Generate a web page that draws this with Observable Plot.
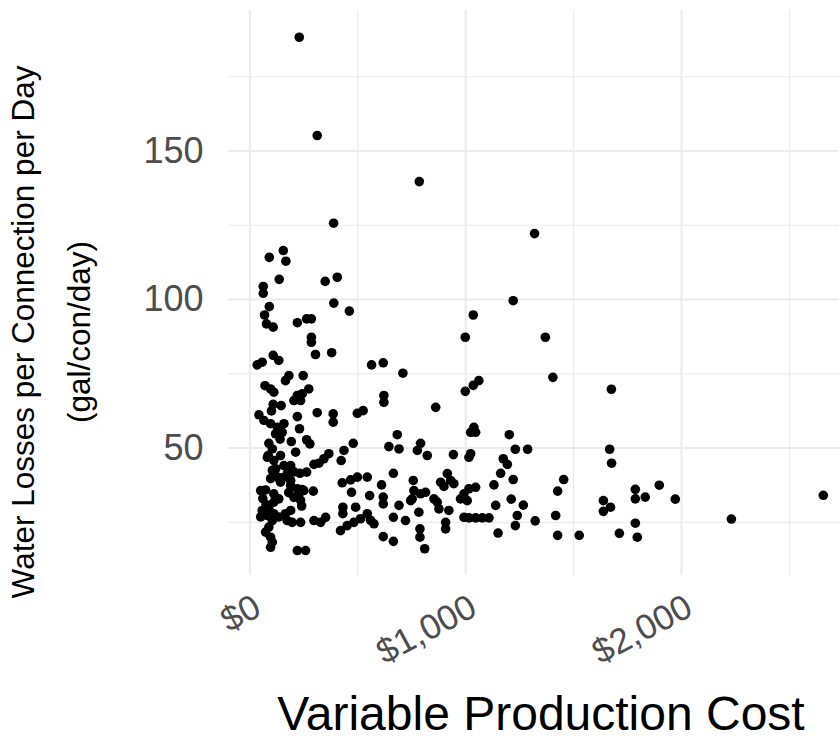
<!DOCTYPE html>
<html>
<head>
<meta charset="utf-8">
<script src="https://cdn.jsdelivr.net/npm/d3@7"></script>
<script src="https://cdn.jsdelivr.net/npm/@observablehq/plot@0.6"></script>
<style>
  html, body { margin: 0; padding: 0; background: #ffffff; }
  #chart svg { display: block; }
</style>
</head>
<body>
<div id="chart"></div>
<script>
// Variable production cost ($) per utility
const cost = [
  229, 312, 785, 388, 155, 90, 167, 136, 349, 405, 62, 62, 389, 1220, 1319,
  1369, 1404, 1675, 1202, 1230, 1287, 1174, 1193, 1162, 1220, 1454, 1426, 1667, 1676, 1897,
  1786, 1786, 1832, 1971, 1638, 1671, 1638, 1211, 1267, 1239, 1230, 1322, 1417, 1426, 1526,
  1712, 1786, 1795, 2231, 2657, 1150,
  461, 1035, 998, 90, 68, 77, 108, 220, 263, 285, 285, 285, 304, 379, 34, 57, 108, 134,
  564, 618, 709, 998, 1035, 1061, 181, 165, 247, 70, 96, 111, 273, 243, 220, 204, 235,
  108, 145, 621, 621, 861, 312, 386, 386, 498, 525, 42, 65, 96, 127, 158, 220, 230, 119,
  150, 683, 1038, 1023, 1046, 192, 263, 278, 88, 104, 479, 644, 691, 791, 776, 822, 943,
  1023, 1015, 212, 436, 423, 366, 343, 320, 297, 81, 111, 142, 158, 189, 232, 263, 665,
  104, 127, 96, 142, 173, 189, 915, 930, 945, 757, 884, 899, 498, 544, 467, 428, 610, 1131,
  50, 73, 189, 220, 243, 226, 204, 235, 250, 294, 111, 134, 111, 471, 555, 760, 752, 791,
  814, 853, 868, 992, 1015, 1046, 1007, 976, 618, 618, 691, 490, 431, 431, 745, 1139, 783,
  876, 922, 57, 88, 50, 81, 111, 134, 165, 189, 173, 196, 235, 104, 297, 328, 351, 88, 73,
  96, 104, 96, 220, 258, 420, 451, 482, 513, 544, 559, 575, 618, 665, 665, 721, 788, 788,
  810, 907, 907, 992, 1015, 1046, 1077, 1108,
  60, 75, 120, 150, 180, 205, 240, 140, 100, 85
];
// Water losses per connection per day (gal/con/day)
const losses = [
  188.3, 155.2, 139.7, 125.7, 116.5, 114.2, 112.9, 106.8, 106.1, 107.5, 104.4, 102.1, 98.8, 99.6, 122.2,
  87.3, 73.8, 69.8, 54.5, 49.6, 49.6, 46.4, 44.5, 41.5, 39.4, 39.4, 35.5, 49.6, 44.9, 37.5,
  36.1, 32.9, 33.5, 32.8, 32.3, 30.1, 28.7, 32.8, 30.8, 27.3, 23.9, 25.5, 27.3, 20.6, 20.6,
  21.3, 24.7, 20.0, 26.1, 34.1, 21.4,
  96.1, 94.8, 87.3, 97.6, 94.8, 91.8, 90.7, 92.2, 93.5, 93.5, 87.3, 85.6, 81.5, 82.1, 78.0, 78.9, 81.2, 79.5,
  78.0, 78.7, 75.2, 69.1, 71.1, 72.7, 74.4, 72.7, 74.4, 71.0, 69.9, 68.8, 69.9, 68.3, 67.7, 66.0, 66.0,
  64.7, 64.3, 67.7, 65.4, 63.7, 61.9, 61.5, 58.7, 61.7, 62.6, 61.2, 59.3, 58.2, 57.0, 58.2, 60.6, 56.5, 54.8,
  55.3, 54.5, 57.0, 55.3, 55.3, 52.2, 52.8, 51.4, 51.6, 49.7, 51.6, 50.5, 49.7, 51.6, 49.2, 47.5, 47.8,
  48.1, 46.9, 48.6, 49.2, 45.8, 48.1, 46.4, 44.9, 44.5, 46.9, 45.8, 47.5, 44.1, 44.1, 41.5, 41.9, 41.5,
  42.5, 40.2, 39.7, 38.5, 41.4, 39.1, 41.4, 39.1, 38.0, 39.1, 38.5, 37.1, 40.2, 40.2, 39.3, 38.3, 37.6, 37.6,
  35.7, 35.9, 37.4, 36.3, 36.0, 34.1, 33.4, 32.4, 35.7, 35.5, 34.6, 32.9, 31.8, 35.1, 34.0, 35.7, 32.9, 34.6,
  35.1, 32.9, 31.8, 34.6, 36.3, 36.8, 32.3, 32.9, 33.5, 31.2, 30.7, 30.1, 30.1, 27.9, 32.3, 30.7, 28.4,
  29.5, 29.0, 29.0, 29.5, 26.8, 27.3, 27.9, 26.8, 27.9, 29.0, 25.6, 25.0, 25.0, 25.6, 25.6, 25.0, 26.7, 23.4, 21.7,
  20.0, 18.3, 16.6, 15.5, 15.5, 22.2, 23.9, 25.0, 26.2, 27.9, 25.7, 24.5, 20.2, 18.6, 26.7, 25.6, 22.8, 20.0,
  16.1, 25.0, 22.8, 26.7, 26.5, 26.5, 26.5, 26.5,
  33.0, 31.0, 43.0, 40.0, 35.0, 42.0, 30.5, 53.0, 62.5, 47.5
];
const xMajor = [0, 1000, 2000];
const xMinor = [500, 1500, 2500];
const yMajor = [50, 100, 150];
const yMinor = [25, 75, 125, 175];
const xTitle = "Variable Production Cost";
const yTitle = "Water Losses per Connection per Day\n(gal/con/day)";

const points = cost.map((c, i) => ({cost: c, loss: losses[i]}));
const fmt = d3.format(",");

const chart = Plot.plot({
  width: 839,
  height: 743,
  marginLeft: 228,
  marginRight: 0,
  marginTop: 10,
  marginBottom: 168,
  style: {fontFamily: "'Liberation Sans', Arial, sans-serif", background: "#ffffff", overflow: "visible"},
  x: {domain: [-99, 2732]},
  y: {domain: [7.1, 197.3]},
  marks: [
    Plot.gridX(xMinor, {stroke: "#ebebeb", strokeOpacity: 1, strokeWidth: 1.2}),
    Plot.gridY(yMinor, {stroke: "#ebebeb", strokeOpacity: 1, strokeWidth: 1.2}),
    Plot.gridX(xMajor, {stroke: "#ebebeb", strokeOpacity: 1, strokeWidth: 2}),
    Plot.gridY(yMajor, {stroke: "#ebebeb", strokeOpacity: 1, strokeWidth: 2}),
    Plot.dot(points, {x: "cost", y: "loss", r: 4.8, fill: "#000000"}),
    Plot.axisX(xMajor, {
      tickSize: 0, tickPadding: 29, dx: 8, tickRotate: -28,
      tickFormat: d => "$" + fmt(d), fontSize: 35, fill: "#4d4d4d", label: null
    }),
    Plot.axisY(yMajor, {
      tickSize: 0, tickPadding: 25, fontSize: 36, fill: "#4d4d4d", label: null
    }),
    Plot.text([xTitle], {
      text: d => d, frameAnchor: "bottom", lineAnchor: "bottom",
      dx: 7, dy: 154, fontSize: 48, fill: "#000000"
    }),
    Plot.text([yTitle], {
      text: d => d, frameAnchor: "left", rotate: -90, lineAnchor: "top",
      textAnchor: "middle", lineHeight: 1.8,
      dx: -235, dy: 39, fontSize: 31.5, fill: "#000000"
    })
  ]
});
document.getElementById("chart").append(chart);
</script>
</body>
</html>
